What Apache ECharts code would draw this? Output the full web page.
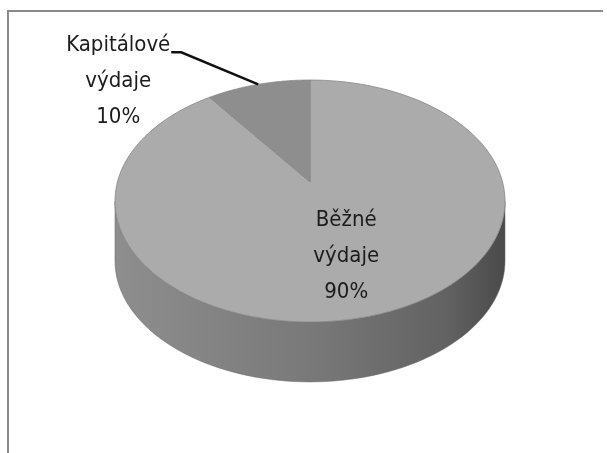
<!DOCTYPE html>
<html><head><meta charset="utf-8">
<script src="https://cdn.jsdelivr.net/npm/echarts@6/dist/echarts.min.js"></script>
<style>html,body{margin:0;padding:0;background:#fff}#c{width:607px;height:453px}</style>
</head><body><div id="c"></div>
<script>
// ---- data ----
const categories = ['Běžné výdaje', 'Kapitálové výdaje'];
const values = [90, 10];
const topColors = ['#ababab', '#8e8e8e'];

// ---- derived ----
const total = values.reduce((a, b) => a + b, 0);
const starts = [];
let acc = 0;
values.forEach(v => { starts.push(acc / total * 360); acc += v; });
const P = 0.157;      // perspective factor
const DEPTH = 0.508;  // cylinder height in y-axis units
const visA = Math.acos(-P) * 180 / Math.PI;
const FONT = '"Liberation Sans Narrow","DejaVu Sans Condensed","Liberation Sans",sans-serif';

function proj(aDeg, r, dz) {
  const a = aDeg * Math.PI / 180;
  const x = r * Math.sin(a), y = r * Math.cos(a);
  const w = 1 + P * y;
  return [x / w, y / w - dz];
}
function arc(api, a0, a1, r, dz, n) {
  const pts = [];
  for (let i = 0; i <= n; i++) pts.push(api.coord(proj(a0 + (a1 - a0) * i / n, r, dz)));
  return pts;
}
function range(i) {
  const a0 = starts[i];
  return [a0, a0 + values[i] / total * 360];
}
function labelText(i) {
  return categories[i].replace(' ', '\n') + '\n' + Math.round(values[i] / total * 100) + '%';
}

const seriesData = values.map((v, i) => ({ name: categories[i], value: [0, 0, v] }));

const chart = echarts.init(document.getElementById('c'), null, { renderer: 'canvas' });
chart.setOption({
  backgroundColor: '#fff',
  animation: false,
  grid: { left: 117.4, width: 385.2, top: 64, height: 354 },
  xAxis: { type: 'value', min: -1, max: 1, show: false },
  yAxis: { type: 'value', min: -2, max: 1, show: false },
  graphic: [{
    type: 'polyline', silent: true,
    shape: { points: [[8, 460], [8, 11], [603, 11]] },
    style: { stroke: '#8a8a8a', lineWidth: 2, fill: null }
  }],
  series: [
    {
      type: 'custom', coordinateSystem: 'cartesian2d', z: 1,
      data: seriesData,
      renderItem: function (params, api) {
        const i = params.dataIndex;
        const [a0, a1] = range(i);
        const lo = Math.max(a0, visA), hi = Math.min(a1, 360 - visA);
        if (hi <= lo) return { type: 'group', children: [] };
        const pts = arc(api, lo, hi, 1, 0, 80).concat(arc(api, hi, lo, 1, DEPTH, 80));
        return {
          type: 'polygon', shape: { points: pts },
          style: {
            fill: new echarts.graphic.LinearGradient(0, 0, 1, 0, [
              { offset: 0, color: '#8e8e8e' },
              { offset: 0.5, color: '#797979' },
              { offset: 0.85, color: '#626262' },
              { offset: 1, color: '#4a4a4a' }
            ]),
            stroke: '#6a6a6a', lineWidth: 0.5
          }
        };
      }
    },
    {
      type: 'custom', coordinateSystem: 'cartesian2d', z: 2,
      data: seriesData,
      renderItem: function (params, api) {
        const i = params.dataIndex;
        const [a0, a1] = range(i);
        const pts = [api.coord(proj(0, 0, 0))].concat(arc(api, a0, a1, 1, 0, 120));
        const children = [{
          type: 'polygon', shape: { points: pts },
          style: { fill: topColors[i], stroke: '#888888', lineWidth: 0.8 }
        }];
        const mid = (a0 + a1) / 2;
        const share = values[i] / total;
        if (share >= 0.15) {
          const c = api.coord(proj(mid, 0.6, 0));
          children.push({
            type: 'text', x: c[0] - 3, y: c[1], z2: 10,
            style: {
              text: labelText(i), align: 'center', verticalAlign: 'middle',
              fontSize: 22, lineHeight: 36, fontFamily: FONT, fill: '#1c1c1c'
            }
          });
        } else {
          const c = api.coord(proj(mid, 1, 0));
          children.push({
            type: 'polyline', z2: 10,
            shape: { points: [c, [c[0] - 77, c[1] - 32], [c[0] - 87, c[1] - 32]] },
            style: { stroke: '#111', lineWidth: 2.5, fill: null }
          });
          children.push({
            type: 'text', x: c[0] - 140, y: c[1] - 3, z2: 10,
            style: {
              text: labelText(i), align: 'center', verticalAlign: 'middle',
              fontSize: 22, lineHeight: 36, fontFamily: FONT, fill: '#1c1c1c'
            }
          });
        }
        return { type: 'group', children: children };
      }
    }
  ]
});
</script></body></html>
